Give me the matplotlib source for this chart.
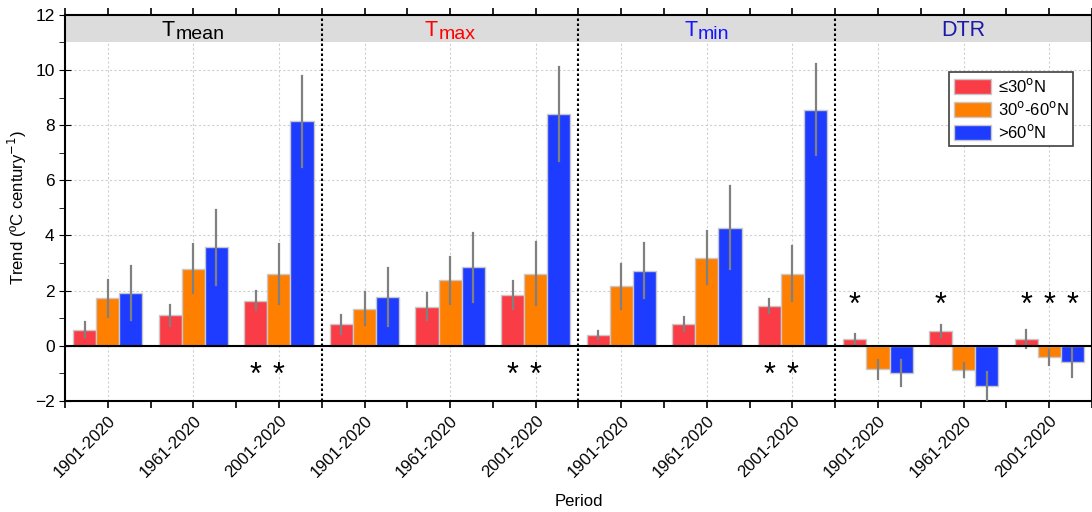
import numpy as np
import matplotlib
matplotlib.use('Agg')
import matplotlib.pyplot as plt
from matplotlib.patches import Patch, Rectangle
from matplotlib.ticker import MultipleLocator, FixedLocator

plt.rcParams['font.family'] = ['Liberation Sans', 'DejaVu Sans']

periods = ['1901-2020', '1961-2020', '2001-2020']
zones = ['≤30$^{\\rm o}$N', '30$^{\\rm o}$-60$^{\\rm o}$N', '>60$^{\\rm o}$N']
subs = ['mean', 'max', 'min', None]

# trend values per variable: rows = period, cols = latitude zone
tmean = [[0.58, 1.72, 1.92], [1.10, 2.79, 3.57], [1.63, 2.61, 8.15]]
tmax = [[0.78, 1.35, 1.78], [1.42, 2.38, 2.85], [1.85, 2.62, 8.40]]
tmin = [[0.38, 2.15, 2.72], [0.80, 3.20, 4.28], [1.45, 2.62, 8.55]]
dtr = [[0.24, -0.86, -1.00], [0.54, -0.89, -1.46], [0.24, -0.42, -0.60]]

tmean_err = [[0.27, 0.68, 0.97], [0.38, 0.89, 1.37], [0.35, 1.08, 1.65]]
tmax_err = [[0.35, 0.60, 1.05], [0.50, 0.85, 1.25], [0.50, 1.15, 1.70]]
tmin_err = [[0.15, 0.80, 1.00], [0.25, 0.95, 1.50], [0.25, 1.00, 1.65]]
dtr_err = [[0.20, 0.36, 0.47], [0.21, 0.26, 0.50], [0.33, 0.28, 0.52]]

# significance stars: (panel, period, zone, y)
stars = [(0, 2, 0, -1.1), (0, 2, 1, -1.1),
         (1, 2, 0, -1.1), (1, 2, 1, -1.1),
         (2, 2, 0, -1.1), (2, 2, 1, -1.1),
         (3, 0, 0, 1.45), (3, 1, 0, 1.45),
         (3, 2, 0, 1.45), (3, 2, 1, 1.45), (3, 2, 2, 1.45)]

colors = ['#FA3C46', '#FF7F00', '#1E3CFF']
title_colors = ['black', 'red', '#1515ff', '#1a1aa8']

values = [tmean, tmax, tmin, dtr]
errors = [tmean_err, tmax_err, tmin_err, dtr_err]

fig = plt.figure(figsize=(10.92, 5.12), dpi=100)
ax = fig.add_axes([0.0595, 0.217, 0.9405, 0.754])

w = 0.27
centers = []
for p in range(4):
    for i in range(3):
        c = p * 3 + i + 0.5
        centers.append(c)
        for z in range(3):
            x = c + (z - 1) * w
            ax.bar(x, values[p][i][z], width=w, color=colors[z],
                   edgecolor='#c8c8c8', linewidth=1, zorder=3)
            v = values[p][i][z]
            e = errors[p][i][z]
            ax.plot([x, x], [v - e, v + e], color='#808080', lw=1.6,
                    zorder=4)

for p, i, z, y in stars:
    ax.text(p * 3 + i + 0.5 + (z - 1) * w, y, '*', ha='center', va='center',
            fontsize=22, zorder=5)

ax.set_xlim(0, 12)
ax.set_ylim(-2, 12)

# header band
ax.add_patch(Rectangle((0, 11), 12, 1, color='#dcdcdc', zorder=1, lw=0))
fig.canvas.draw()
for p in range(4):
    if subs[p] is None:
        ax.text(p * 3 + 1.5, 11.45, 'DTR', ha='center', va='center',
                fontsize=15.5, color=title_colors[p], zorder=5)
        continue
    t = ax.text(p * 3 + 1.5, 11.22, 'T', ha='left', va='baseline',
                fontsize=15.5, color=title_colors[p], zorder=5)
    s = ax.annotate(subs[p], xy=(1, 0), xycoords=t, xytext=(0.5, 1.5),
                    textcoords='offset points', ha='left', va='baseline',
                    fontsize=14, color=title_colors[p], zorder=5)
    fig.canvas.draw()
    r = fig.canvas.get_renderer()
    b1 = t.get_window_extent(r)
    b2 = s.get_window_extent(r)
    width_px = b2.x1 - b1.x0
    inv = ax.transData.inverted()
    dx = inv.transform((width_px, 0))[0] - inv.transform((0, 0))[0]
    t.set_x(p * 3 + 1.5 - dx / 2)

for s in [3, 6, 9]:
    ax.axvline(s, color='black', ls=(0, (1.2, 1.2)), lw=1.5, zorder=6)
ax.axhline(0, color='black', lw=1.5, zorder=5)

ax.xaxis.set_major_locator(FixedLocator(centers))
ax.xaxis.set_minor_locator(FixedLocator(np.arange(0, 13, 1)))
ax.set_xticklabels(periods * 4, rotation=45, ha='right',
                   rotation_mode='anchor', fontsize=12)
ax.yaxis.set_major_locator(MultipleLocator(2))
ax.yaxis.set_minor_locator(MultipleLocator(1))
ax.tick_params(axis='y', which='major', direction='inout', length=8,
               labelsize=12.5)
ax.tick_params(axis='y', which='minor', direction='out', length=4)
ax.tick_params(axis='x', which='both', direction='out', length=5,
               top=True, labeltop=False, width=1.2)
ax.grid(True, which='major', color='#d0d0d0', ls=(0, (2, 2)), lw=0.8,
        zorder=0)
ax.set_axisbelow(True)
for sp in ax.spines.values():
    sp.set_linewidth(1.5)

ax.set_ylabel('Trend (ºC century$^{-1}$)', fontsize=12)
ax.set_xlabel('Period', fontsize=12, labelpad=10)

handles = [Patch(facecolor=colors[z], edgecolor='#c8c8c8', label=zones[z])
           for z in range(3)]
leg = ax.legend(handles=handles, loc='upper left',
                bbox_to_anchor=(0.853, 0.873), fontsize=12, fancybox=False,
                edgecolor='#404040', framealpha=1, handlelength=2.2,
                handleheight=1.0, borderpad=0.3, labelspacing=0.3,
                handletextpad=0.4)
leg.get_frame().set_linewidth(1.2)
leg.set_zorder(10)

fig.savefig('out.png', dpi=100)
